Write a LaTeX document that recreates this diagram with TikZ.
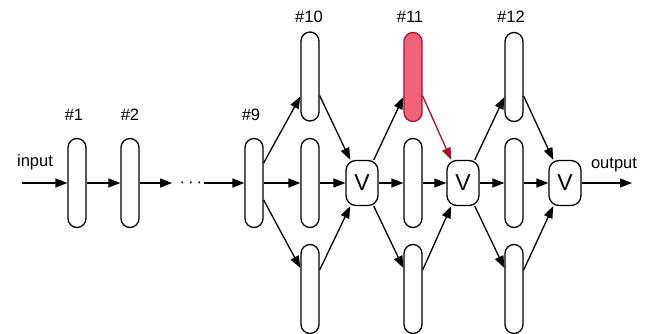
\documentclass[tikz,border=0pt]{standalone}
\usepackage{fontspec}
\setmainfont{Liberation Sans}
\usetikzlibrary{arrows.meta,calc}
\definecolor{hotfill}{HTML}{F2637A}
\definecolor{hotline}{HTML}{B0102C}
\tikzset{
  pill/.style={draw, line width=1.3pt, fill=white, rectangle, rounded corners=9pt,
    minimum width=18pt, minimum height=89pt, inner sep=0pt},
  hotpill/.style={pill, fill=hotfill, draw=hotline},
  vote/.style={draw, line width=1.3pt, fill=white, rectangle, rounded corners=10pt,
    minimum width=32pt, minimum height=45pt, inner sep=0pt, font=\fontsize{23}{25}\selectfont},
  lbl/.style={anchor=base, inner sep=0pt, font=\fontsize{16.5}{18}\selectfont},
  arr/.style={line width=1.3pt, -{Triangle[length=12pt,width=9pt]}},
  hotarr/.style={arr, draw=hotline, -{Triangle[length=12pt,width=9pt,fill=hotline]}}
}
\begin{document}
\begin{tikzpicture}[x=1pt,y=-1pt]
\useasboundingbox (0,0) rectangle (651,334);

% chain of blocks
\node[pill] (n1) at (77,183) {};
\node[pill] (n2) at (130,183) {};
\node[pill] (n9) at (254,183) {};

% three parallel stages with voting nodes
\node[pill] (n10a) at (310,76.5) {};
\node[pill] (n10b) at (310,183) {};
\node[pill] (n10c) at (310,289) {};
\node[vote] (v1) at (362,183) {V};
\node[hotpill] (n11a) at (413,77) {};
\node[pill] (n11b) at (413,183) {};
\node[pill] (n11c) at (413,289) {};
\node[vote] (v2) at (463,183) {V};
\node[pill] (n12a) at (514,77) {};
\node[pill] (n12b) at (514,183) {};
\node[pill] (n12c) at (514,289) {};
\node[vote] (v3) at (565,183) {V};

% labels
\node[lbl] (l1) at (74,121) {\#1};
\node[lbl] (l2) at (130,121) {\#2};
\node[lbl] (l9) at (251,121) {\#9};
\node[lbl] (l10) at (309,23) {\#10};
\node[lbl] (l11) at (410,23) {\#11};
\node[lbl] (l12) at (511,23) {\#12};
\node[lbl] (lin) at (35,167) {input};
\node[lbl] (lout) at (614,169) {output};
\node[inner sep=0pt, font=\fontsize{17}{19}\selectfont] (dots) at (191,185) {·\,·\,·};

% free ends
\coordinate (in) at (22,183);
\coordinate (out) at (632,183);
\coordinate (dl) at (172,183);
\coordinate (dr) at (204,183);

% chain connectors
\draw[arr] (in) -- (n1.west);
\draw[arr] (n1.east) -- (n2.west);
\draw[arr] (n2.east) -- (dl);
\draw[arr] (dr) -- (n9.west);

% fan out from #9
\draw[arr] ($(n9.east)+(0,-20)$) -- ($(n10a.west)+(0,20)$);
\draw[arr] (n9.east) -- (n10b.west);
\draw[arr] ($(n9.east)+(0,17)$) -- ($(n10c.west)+(0,-21)$);
% into first vote
\draw[arr] ($(n10a.east)+(0,19)$) -- (v1.117);
\draw[arr] (n10b.east) -- (v1.west);
\draw[arr] ($(n10c.east)+(0,-19)$) -- (v1.-117);

% fan out from first vote
\draw[arr] (v1.63) -- ($(n11a.west)+(0,20)$);
\draw[arr] (v1.east) -- (n11b.west);
\draw[arr] (v1.-63) -- ($(n11c.west)+(0,-21)$);
% into second vote
\draw[hotarr] ($(n11a.east)+(0,19)$) -- (v2.117);
\draw[arr] (n11b.east) -- (v2.west);
\draw[arr] ($(n11c.east)+(0,-19)$) -- (v2.-117);

% fan out from second vote
\draw[arr] (v2.63) -- ($(n12a.west)+(0,20)$);
\draw[arr] (v2.east) -- (n12b.west);
\draw[arr] (v2.-63) -- ($(n12c.west)+(0,-21)$);
% into third vote
\draw[arr] ($(n12a.east)+(0,19)$) -- (v3.117);
\draw[arr] (n12b.east) -- (v3.west);
\draw[arr] ($(n12c.east)+(0,-19)$) -- (v3.-117);

\draw[arr] (v3.east) -- (out);
\end{tikzpicture}
\end{document}
